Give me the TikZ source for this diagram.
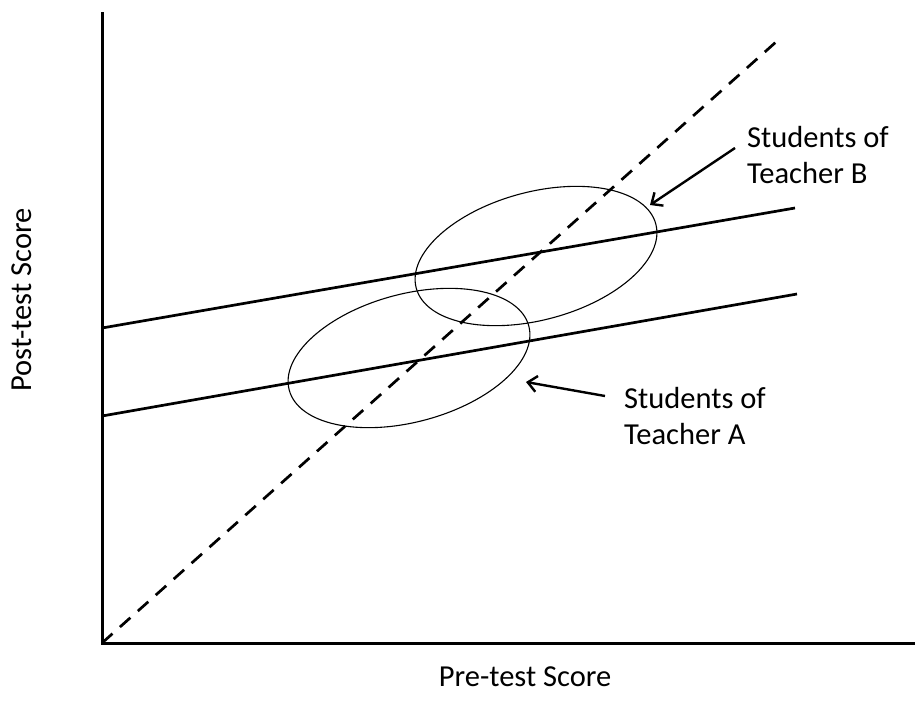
\documentclass[tikz,border=0pt]{standalone}
\usepackage{fontspec}
\setmainfont{Carlito}
\usetikzlibrary{shapes.geometric,arrows.meta}
\begin{document}
\begin{tikzpicture}[x=1pt,y=-1pt,
  axis/.style={line width=3pt},
  trend/.style={line width=2.7pt},
  group/.style={ellipse,draw,line width=1.1pt,minimum width=248pt,minimum height=128pt,inner sep=0pt,outer sep=0pt,rotate=15},
  lbl/.style={font=\fontsize{30.5}{36}\selectfont,align=left,anchor=west,inner sep=0pt},
  pointer/.style={line width=2.4pt,-{Straight Barb[length=9pt,width=16pt,line width=2.4pt]}}]
\useasboundingbox (0,0) rectangle (915,715);
% axes
\coordinate (O) at (102,643);
\coordinate (Ytop) at (102,12);
\coordinate (Xend) at (915,643);
\draw[axis] (Ytop) -- (O) -- (Xend);
% dashed diagonal
\coordinate (D) at (776,42);
\draw[trend,dash pattern=on 14pt off 10pt] (O) -- (D);
% regression lines
\coordinate (B0) at (102,328);
\coordinate (B1) at (795,208);
\coordinate (A0) at (102,416);
\coordinate (A1) at (797,294);
\draw[trend] (B0) -- (B1);
\draw[trend] (A0) -- (A1);
% ellipses
\node[group] (eB) at (536,256) {};
\node[group] (eA) at (409,358) {};
% labels
\node[lbl] (lB) at (747,155) {Students of\\Teacher B};
\node[lbl] (lA) at (624,416) {Students of\\Teacher A};
\coordinate (sB) at (735,148);
\coordinate (tB) at (650,205);
\coordinate (sA) at (605,396);
\coordinate (tA) at (526,382);
\draw[pointer] (sB) -- (tB);
\draw[pointer] (sA) -- (tA);
% axis titles
\node[font=\fontsize{30.5}{36}\selectfont,rotate=90,inner sep=0pt] (yl) at (22,300) {Post-test Score};
\node[font=\fontsize{30.5}{36}\selectfont,inner sep=0pt] (xl) at (525,677) {Pre-test Score};
\end{tikzpicture}
\end{document}
